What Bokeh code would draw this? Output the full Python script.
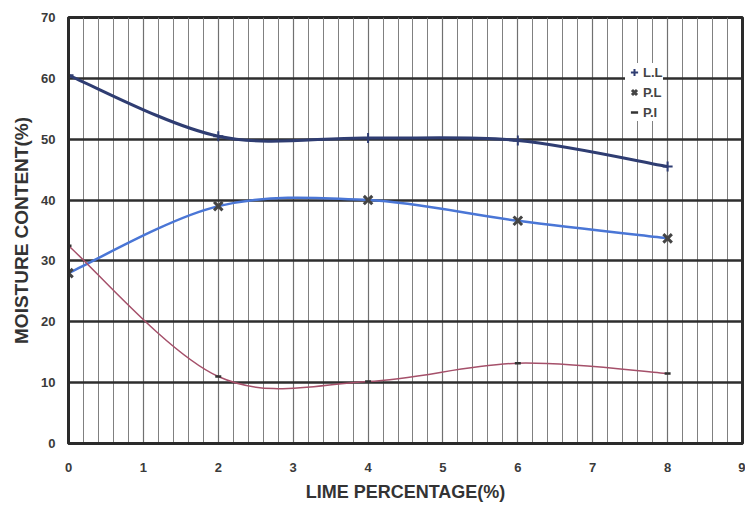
from bokeh.plotting import figure
from bokeh.models import Range1d, FixedTicker, Legend, LegendItem
from bokeh.embed import file_html
from bokeh.resources import INLINE

# ---- data ----
lime = [0, 2, 4, 6, 8]
ll = [60.5, 50.5, 50.2, 49.8, 45.5]   # Liquid limit
pl = [28.0, 39.0, 40.0, 36.6, 33.7]   # Plastic limit
pi = [32.5, 11.0, 10.2, 13.2, 11.5]   # Plasticity index
x_ticks = [0, 1, 2, 3, 4, 5, 6, 7, 8, 9]
y_ticks = [0, 10, 20, 30, 40, 50, 60, 70]
names = ["L.L", "P.L", "P.I"]


def smooth_segments(xs, ys):
    """Bezier control points for a smoothed line through the data (Excel style)."""
    n = len(xs)
    out = dict(x0=[], y0=[], x1=[], y1=[], cx0=[], cy0=[], cx1=[], cy1=[])
    for i in range(n - 1):
        p0 = (xs[max(i - 1, 0)], ys[max(i - 1, 0)])
        p1 = (xs[i], ys[i])
        p2 = (xs[i + 1], ys[i + 1])
        p3 = (xs[min(i + 2, n - 1)], ys[min(i + 2, n - 1)])
        out["x0"].append(p1[0]); out["y0"].append(p1[1])
        out["x1"].append(p2[0]); out["y1"].append(p2[1])
        out["cx0"].append(p1[0] + (p2[0] - p0[0]) / 6)
        out["cy0"].append(p1[1] + (p2[1] - p0[1]) / 6)
        out["cx1"].append(p2[0] - (p3[0] - p1[0]) / 6)
        out["cy1"].append(p2[1] - (p3[1] - p1[1]) / 6)
    return out


p = figure(width=745, height=509, output_backend="svg", toolbar_location=None,
           x_range=Range1d(0, 9), y_range=Range1d(0, 70),
           min_border_left=68, min_border_right=3, min_border_top=17, min_border_bottom=66,
           background_fill_color="white", border_fill_color="white")

p.outline_line_color = "#2a2a2a"
p.outline_line_width = 3

p.xaxis.ticker = FixedTicker(ticks=x_ticks, minor_ticks=[i * 0.2 for i in range(46)])
p.yaxis.ticker = FixedTicker(ticks=y_ticks)

p.xgrid.grid_line_color = "#707070"
p.xgrid.grid_line_width = 1.2
p.xgrid.minor_grid_line_color = "#808080"
p.xgrid.minor_grid_line_width = 1
p.ygrid.grid_line_color = "#2e2e2e"
p.ygrid.grid_line_width = 2.5

for ax in (p.xaxis, p.yaxis):
    ax.axis_line_color = "#2a2a2a"
    ax.axis_line_width = 3
    ax.major_tick_line_color = None
    ax.minor_tick_line_color = None
    ax.major_label_text_font = "Liberation Sans"
    ax.major_label_text_font_style = "bold"
    ax.major_label_text_font_size = "13px"
    ax.major_label_text_color = "#3a3a3a"
    ax.axis_label_text_font = "Liberation Sans"
    ax.axis_label_text_font_style = "bold"
    ax.axis_label_text_color = "#333333"

p.xaxis.axis_label_text_font_size = "18px"
p.yaxis.axis_label_text_font_size = "19px"
p.xaxis.axis_label = "LIME PERCENTAGE(%)"
p.yaxis.axis_label = "MOISTURE CONTENT(%)"
p.xaxis.major_label_standoff = 13
p.xaxis.axis_label_standoff = 7
p.yaxis.major_label_standoff = 7
p.yaxis.axis_label_standoff = 6

# smoothed lines
s = smooth_segments(lime, ll)
p.bezier(line_color="#2f3d72", line_width=3, **s)
s = smooth_segments(lime, pl)
p.bezier(line_color="#4a76d6", line_width=2.5, **s)
s = smooth_segments(lime, pi)
p.bezier(line_color="#a5506a", line_width=1.5, **s)

# markers
r_ll = p.scatter(lime, ll, marker="cross", size=10, line_color="#2f3d72", line_width=2)
r_pl = p.scatter(lime, pl, marker="x", size=12, line_color="#444444", line_width=3)
r_pi = p.scatter(lime, pi, marker="dash", size=6, line_color="#333333", line_width=2.5)

legend = Legend(items=[LegendItem(label=names[0], renderers=[r_ll]),
                       LegendItem(label=names[1], renderers=[r_pl]),
                       LegendItem(label=names[2], renderers=[r_pi])],
                location=(557, 322))
legend.background_fill_color = "white"
legend.background_fill_alpha = 1
legend.border_line_color = None
legend.label_text_font = "Liberation Sans"
legend.label_text_font_style = "bold"
legend.label_text_font_size = "13px"
legend.label_text_color = "#444444"
legend.glyph_width = 18
legend.glyph_height = 18
legend.label_standoff = 0
legend.spacing = 2
legend.padding = 3
legend.margin = 0
legend.label_height = 18
p.add_layout(legend)

open("out.html", "w").write(file_html(p, INLINE))
